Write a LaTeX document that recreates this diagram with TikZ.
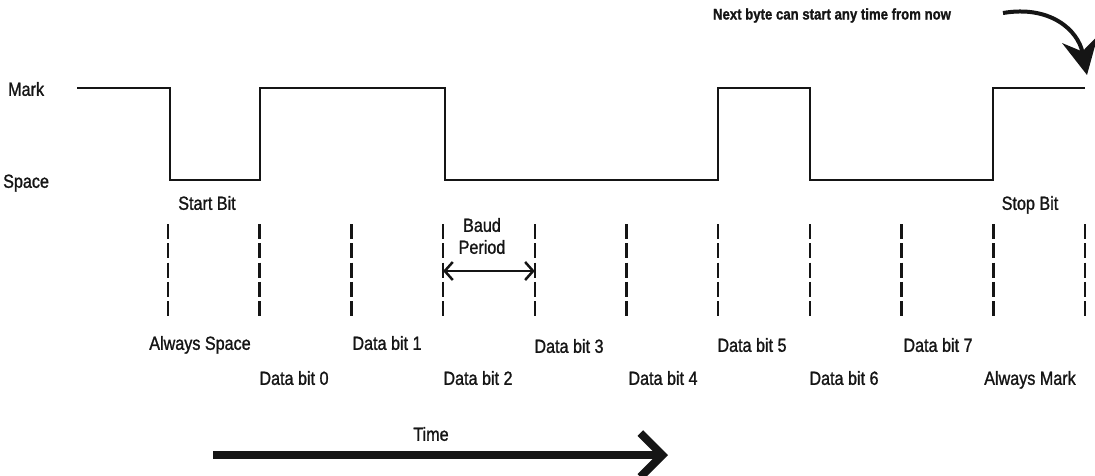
\documentclass[tikz,border=0pt]{standalone}
\usepackage{fontspec}
\setmainfont{Liberation Sans}[FakeStretch=0.85,FakeBold=1.2]
\usepackage{tikz}
\usetikzlibrary{arrows.meta}
\usepackage{xcolor}
\definecolor{Ink}{HTML}{151515}

\begin{document}
\begin{tikzpicture}[x=1pt,y=-1pt,font=\fontsize{19}{22}\selectfont,
    lbl/.style={inner sep=0pt,text height=13.6pt,text depth=0pt,color=Ink},
    wire/.style={draw=Ink,line width=2.5pt}]
  \useasboundingbox (0,0) rectangle (1095,475);
  % line levels
  \node[lbl,anchor=west] (mark) at (8,89) {Mark};
  \node[lbl,anchor=west] (space) at (3,181) {Space};
  % the waveform
  \draw[wire] (77,88) -| (170,180) -| (260,88) -| (445,180) -| (718,88)
    -| (810,180) -| (993,88) -- (1085,88);
  % bit boundaries
  \foreach \i in {0,...,10}{
    \pgfmathsetmacro{\x}{168+\i*91.7}
    \coordinate (b\i) at (\x,271);
    \draw[wire,dash pattern=on 15pt off 4.3pt] (\x,224) -- (\x,316);
  }
  \node[lbl] (start) at (207,203) {Start Bit};
  \node[lbl] (stop) at (1030,203) {Stop Bit};
  \node[align=center,color=Ink,inner sep=0pt] (baud) at (482,236) {Baud\\Period};
  \draw[wire,{Straight Barb[length=8pt,width=18pt]}-{Straight Barb[length=8pt,width=18pt]}]
    (b3) -- (b4);
  % bit names
  \foreach \txt/\x/\y [count=\n] in {Always Space/200/343, Data bit 0/294/378,
      Data bit 1/387/343, Data bit 2/478/378, Data bit 3/569/346,
      Data bit 4/663/378, Data bit 5/752/345, Data bit 6/844/378,
      Data bit 7/938/345, Always Mark/1030/378}
    \node[lbl] (name\n) at (\x,\y) {\txt};
  % time axis
  \node[lbl] (time) at (431,434) {Time};
  \coordinate (t0) at (213,455);
  \coordinate (t1) at (668,455);
  \draw[draw=Ink,line width=8pt,-{Straight Barb[length=22pt,width=44pt]}] (t0) -- (t1);
  % next byte
  \node[lbl,font=\fontsize{15.5}{18}\selectfont\bfseries,text height=11pt] (next)
    at (832,14) {Next byte can start any time from now};
  \coordinate (c0) at (1003,13);
  \coordinate (c1) at (1087,75);
  \draw[draw=Ink,line width=4pt,-{Stealth[length=36pt,width=36pt,inset=12pt]}]
    (c0) .. controls (1050,5) and (1078,30) .. (c1);
\end{tikzpicture}
\end{document}
